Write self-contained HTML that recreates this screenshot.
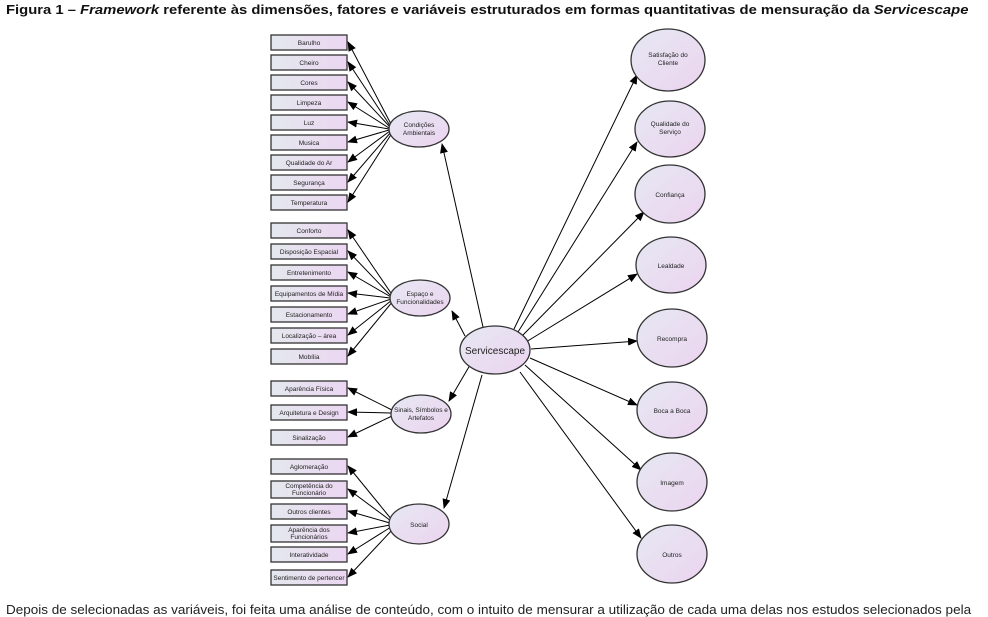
<!DOCTYPE html>
<html><head><meta charset="utf-8"><style>
body{margin:0;width:988px;height:611px;overflow:hidden;background:#fff;font-family:"Liberation Sans",sans-serif;position:relative}
.t{position:absolute;left:6px;top:3px;font-size:12.5px;font-weight:bold;color:#111;white-space:nowrap;transform:scaleX(1.185);transform-origin:0 0}
.b{position:absolute;left:6px;top:603px;font-size:12.5px;color:#222;white-space:nowrap;transform:scaleX(1.08);transform-origin:0 0}
svg{position:absolute;left:0;top:0}
svg text{font-family:"Liberation Sans",sans-serif;fill:#222}
</style></head><body>
<div class="t">Figura 1 – <i>Framework</i> referente às dimensões, fatores e variáveis estruturados em formas quantitativas de mensuração da <i>Servicescape</i></div>
<svg width="988" height="611" viewBox="0 0 988 611">
<defs>
<linearGradient id="g" x1="0" x2="1" y1="0" y2="0"><stop offset="0" stop-color="#e4e8ee"/><stop offset="1" stop-color="#ecd6f2"/></linearGradient>
<linearGradient id="ge" x1="0" x2="1" y1="0" y2="1"><stop offset="0" stop-color="#e6e8f2"/><stop offset="1" stop-color="#ecd4f0"/></linearGradient>
<marker id="a" markerWidth="10" markerHeight="8" refX="9" refY="4" orient="auto" markerUnits="userSpaceOnUse"><path d="M0,0 L10,4 L0,8 z" fill="#000"/></marker>
</defs>
<g stroke="#000" stroke-width="1" marker-end="url(#a)">
<line x1="392" y1="126" x2="348" y2="42"/><line x1="391" y1="127" x2="348" y2="62"/><line x1="390" y1="127" x2="348" y2="82"/><line x1="389" y1="128" x2="348" y2="102"/><line x1="389" y1="129" x2="348" y2="122"/><line x1="389" y1="130" x2="348" y2="142"/><line x1="390" y1="131" x2="348" y2="162"/><line x1="391" y1="132" x2="348" y2="182"/><line x1="392" y1="133" x2="348" y2="202"/>
<line x1="393" y1="296" x2="348" y2="230"/><line x1="392" y1="297" x2="348" y2="251"/><line x1="391" y1="297" x2="348" y2="272"/><line x1="390" y1="298" x2="348" y2="293"/><line x1="391" y1="299" x2="348" y2="314"/><line x1="392" y1="300" x2="348" y2="335"/><line x1="393" y1="301" x2="348" y2="356"/>
<line x1="392" y1="410" x2="348" y2="388"/><line x1="391" y1="413" x2="348" y2="412"/><line x1="392" y1="416" x2="348" y2="437"/>
<line x1="392" y1="520" x2="348" y2="466"/><line x1="391" y1="521" x2="348" y2="489"/><line x1="390" y1="523" x2="348" y2="511"/><line x1="390" y1="525" x2="348" y2="533"/><line x1="391" y1="527" x2="348" y2="554"/><line x1="393" y1="529" x2="348" y2="577"/>
<line x1="483" y1="327" x2="442" y2="144"/><line x1="465" y1="336" x2="452" y2="311"/><line x1="470" y1="365" x2="449" y2="401"/><line x1="482" y1="375" x2="444" y2="508"/>
<line x1="514" y1="329" x2="637" y2="75"/><line x1="518" y1="332" x2="637" y2="142"/><line x1="522" y1="336" x2="644" y2="212"/><line x1="526" y1="342" x2="637" y2="274"/><line x1="531" y1="349" x2="637" y2="341"/><line x1="530" y1="358" x2="637" y2="405"/><line x1="525" y1="365" x2="641" y2="470"/><line x1="520" y1="372" x2="641" y2="538"/>
</g>
<g stroke="#333" stroke-width="1.3" fill="url(#g)">
<rect x="271" y="35" width="76" height="15"/><rect x="271" y="55" width="76" height="15"/><rect x="271" y="75" width="76" height="15"/><rect x="271" y="95" width="76" height="15"/><rect x="271" y="115" width="76" height="15"/><rect x="271" y="135" width="76" height="15"/><rect x="271" y="155" width="76" height="15"/><rect x="271" y="175" width="76" height="15"/><rect x="271" y="195" width="76" height="15"/>
<rect x="271" y="223" width="76" height="15"/><rect x="271" y="244" width="76" height="15"/><rect x="271" y="265" width="76" height="15"/><rect x="271" y="286" width="76" height="15"/><rect x="271" y="307" width="76" height="15"/><rect x="271" y="328" width="76" height="15"/><rect x="271" y="349" width="76" height="15"/>
<rect x="271" y="381" width="76" height="15"/><rect x="271" y="405" width="76" height="15"/><rect x="271" y="430" width="76" height="15"/>
<rect x="271" y="459" width="76" height="15"/><rect x="271" y="481" width="76" height="17"/><rect x="271" y="504" width="76" height="15"/><rect x="271" y="525" width="76" height="17"/><rect x="271" y="547" width="76" height="15"/><rect x="271" y="570" width="76" height="15"/>
</g>
<g stroke="#333" stroke-width="1.3" fill="url(#ge)">
<ellipse cx="419" cy="129" rx="30" ry="18"/><ellipse cx="420" cy="298" rx="30" ry="18"/><ellipse cx="421" cy="414" rx="30" ry="19"/><ellipse cx="419" cy="524" rx="30" ry="20"/>
<ellipse cx="495" cy="350" rx="35" ry="24"/>
<ellipse cx="668" cy="60" rx="37" ry="31"/><ellipse cx="670" cy="129" rx="35" ry="28"/><ellipse cx="670" cy="194" rx="35" ry="29"/><ellipse cx="671" cy="265" rx="35" ry="28"/><ellipse cx="672" cy="338" rx="35" ry="29"/><ellipse cx="672" cy="410" rx="35" ry="28"/><ellipse cx="672" cy="482" rx="35" ry="29"/><ellipse cx="672" cy="554" rx="35" ry="29"/>
</g>
<g font-size="6.5" text-anchor="middle">
<text x="309" y="45">Barulho</text><text x="309" y="65">Cheiro</text><text x="309" y="85">Cores</text><text x="309" y="105">Limpeza</text><text x="309" y="125">Luz</text><text x="309" y="145">Musica</text><text x="309" y="165">Qualidade do Ar</text><text x="309" y="185">Segurança</text><text x="309" y="205">Temperatura</text>
<text x="309" y="233">Conforto</text><text x="309" y="254">Disposição Espacial</text><text x="309" y="275">Entretenimento</text><text x="309" y="296">Equipamentos de Mídia</text><text x="309" y="317">Estacionamento</text><text x="309" y="338">Localização – área</text><text x="309" y="359">Mobília</text>
<text x="309" y="391">Aparência Física</text><text x="309" y="415">Arquitetura e Design</text><text x="309" y="440">Sinalização</text>
<text x="309" y="469">Aglomeração</text><text x="309" y="488">Competência do</text><text x="309" y="495">Funcionário</text><text x="309" y="514">Outros clientes</text><text x="309" y="532">Aparência dos</text><text x="309" y="539">Funcionários</text><text x="309" y="557">Interatividade</text><text x="309" y="580">Sentimento de pertencer</text>
<text x="419" y="127">Condições</text><text x="419" y="135">Ambientais</text>
<text x="420" y="296">Espaço e</text><text x="420" y="304">Funcionalidades</text>
<text x="421" y="412">Sinais, Símbolos e</text><text x="421" y="420">Artefatos</text>
<text x="419" y="527">Social</text>
<text x="668" y="57">Satisfação do</text><text x="668" y="65">Cliente</text>
<text x="670" y="126">Qualidade do</text><text x="670" y="134">Serviço</text>
<text x="670" y="197">Confiança</text><text x="671" y="268">Lealdade</text><text x="672" y="341">Recompra</text><text x="672" y="413">Boca a Boca</text><text x="672" y="485">Imagem</text><text x="672" y="557">Outros</text>
<text x="495" y="354" font-size="10">Servicescape</text>
</g>
</svg>
<div class="b">Depois de selecionadas as variáveis, foi feita uma análise de conteúdo, com o intuito de mensurar a utilização de cada uma delas nos estudos selecionados pela</div>
</body></html>
